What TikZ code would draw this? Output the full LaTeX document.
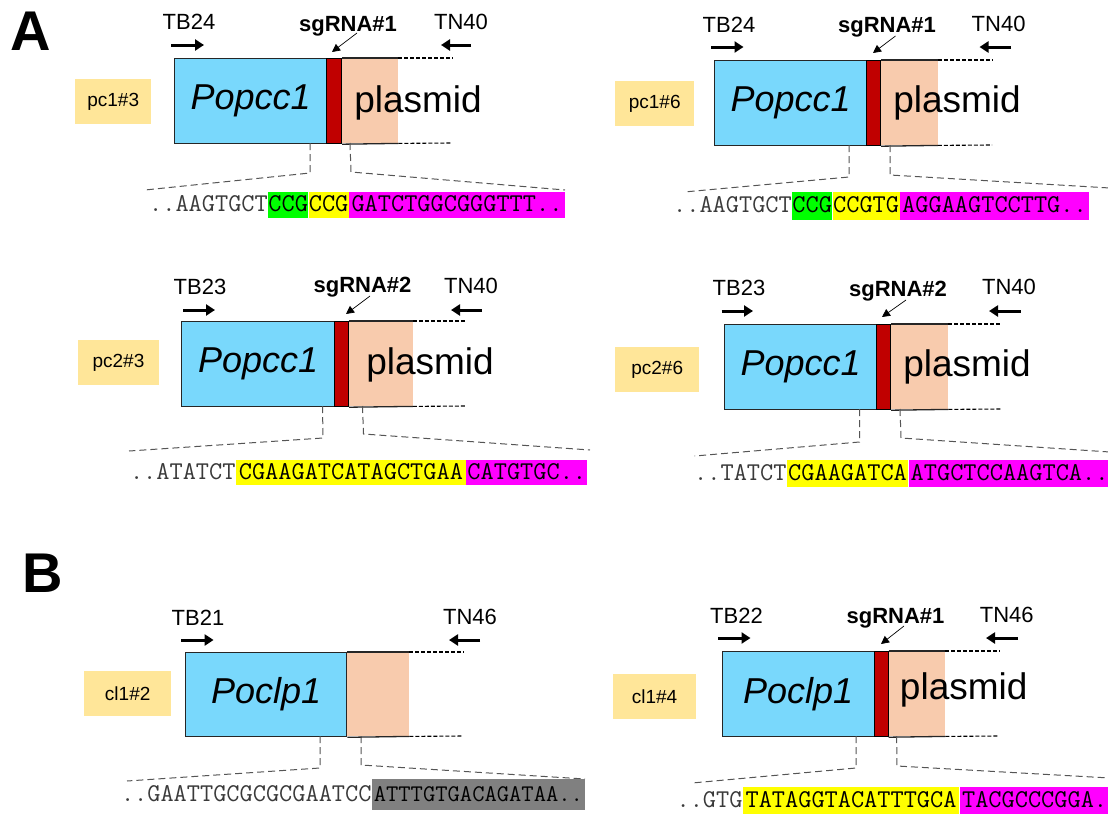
\documentclass[tikz,border=0pt]{standalone}
\usepackage{fontspec}
\setmainfont{Liberation Sans}
\usetikzlibrary{arrows.meta}
\definecolor{genefill}{HTML}{79D8FC}
\definecolor{cutred}{HTML}{C00000}
\definecolor{peachfill}{HTML}{F8CBAD}
\definecolor{labfill}{HTML}{FFE699}
\definecolor{linec}{HTML}{262626}
\definecolor{zoomc}{HTML}{555555}
\definecolor{seqgray}{HTML}{3A3A3A}
\definecolor{grayfill}{HTML}{808080}
\definecolor{sgreen}{RGB}{0,255,0}
\definecolor{syellow}{RGB}{255,255,0}
\definecolor{smag}{RGB}{255,0,255}
\begin{document}
\begin{tikzpicture}[x=1pt,y=-1pt,
  lab/.style={fill=labfill, inner sep=0pt, anchor=north west, minimum height=45pt, font=\fontsize{19}{22}\selectfont},
  gene/.style={draw=linec, line width=1.3pt, fill=genefill, inner sep=0pt, anchor=north west, font=\fontsize{36}{40}\selectfont\itshape},
  cutbar/.style={draw=black, line width=1.2pt, fill=cutred, inner sep=0pt, anchor=north west},
  peachbox/.style={fill=peachfill, inner sep=0pt, anchor=north west},
  edge/.style={draw=linec, line width=1.3pt},
  plas/.style={font=\fontsize{37}{40}\selectfont},
  primer/.style={font=\fontsize{22}{24}\selectfont},
  sgl/.style={font=\bfseries\fontsize{22}{24}\selectfont},
  parr/.style={line width=3pt, -{Triangle[length=9pt,width=11pt]}},
  sgarr/.style={line width=0.7pt, -{Triangle[length=8pt,width=8pt]}},
  ext/.style={draw=black, line width=1.1pt, dash pattern=on 4pt off 2pt},
  zoomline/.style={draw=zoomc, line width=1pt, dash pattern=on 7pt off 4pt},
  seqbox/.style={inner sep=0pt, anchor=north west, text=black, font=\fontsize{25.6}{27}\selectfont\ttfamily, text height=17pt, text depth=4pt},
  seqpre/.style={inner sep=0pt, anchor=base east, text=seqgray, font=\fontsize{25.6}{27}\selectfont\ttfamily},
  panel/.style={font=\bfseries\fontsize{56}{60}\selectfont}
]
\useasboundingbox[fill=white] (0,0) rectangle (1108,814);

\node[panel] (pA) at (30.5,31) {A};
\node[panel] (pB) at (43,573) {B};

% ================= A1 =================
\node[lab, minimum width=76pt] (l1) at (75,79) {pc1\#3};
\node[peachbox, minimum width=57pt, minimum height=85pt] (p1) at (341,58) {};
\node[gene, minimum width=152pt, minimum height=85pt] (g1) at (174,58) {Popcc1};
\node[cutbar, minimum width=15pt, minimum height=85pt] (r1) at (326,58) {};
\draw[edge] (r1.north east) -- (p1.north east);
\draw[edge] (r1.south east) -- (p1.south east);
\coordinate (e1t) at (453,58); \coordinate (e1b) at (452,143);
\draw[ext] (p1.north east) -- (e1t);
\draw[ext] (p1.south east) -- (e1b);
\node[plas] (t1) at (418,103) {plasmid};
\node[primer] (f1) at (189,22) {TB24};
\coordinate (f1a) at (171,45); \coordinate (f1b) at (204,45);
\draw[parr] (f1a) -- (f1b);
\node[primer] (v1) at (461,22) {TN40};
\coordinate (v1a) at (471,45); \coordinate (v1b) at (441,45);
\draw[parr] (v1a) -- (v1b);
\node[sgl] (s1) at (348,26) {sgRNA\#1};
\coordinate (s1a) at (357,33); \coordinate (s1b) at (332,52);
\draw[sgarr] (s1a) -- (s1b);
\coordinate (z1a) at (310,143); \coordinate (z1b) at (310,173); \coordinate (z1c) at (145,190);
\draw[zoomline] (z1a) -- (z1b) -- (z1c);
\coordinate (z1d) at (350,143); \coordinate (z1e) at (351,172); \coordinate (z1f) at (565,190);
\draw[zoomline] (z1d) -- (z1e) -- (z1f);
\node[seqbox, fill=sgreen, minimum width=40pt, minimum height=26pt] (q1g) at (268,192) {CCG};
\node[seqbox, fill=syellow, minimum width=40pt, minimum height=26pt] (q1y) at (q1g.north east) {CCG};
\node[seqbox, fill=smag, minimum width=216pt, minimum height=26pt] (q1m) at (q1y.north east) {GATCTGGCGGGTTT..};
\node[seqpre] (q1p) at (q1g.base west) {..AAGTGCT};

% ================= A2 =================
\node[lab, minimum width=79pt] (l2) at (615,81) {pc1\#6};
\node[peachbox, minimum width=57.5pt, minimum height=85pt] (p2) at (880,60) {};
\node[gene, minimum width=152pt, minimum height=85pt] (g2) at (714,60) {Popcc1};
\node[cutbar, minimum width=14pt, minimum height=85pt] (r2) at (866,60) {};
\draw[edge] (r2.north east) -- (p2.north east);
\draw[edge] (r2.south east) -- (p2.south east);
\coordinate (e2t) at (993,60); \coordinate (e2b) at (992,145);
\draw[ext] (p2.north east) -- (e2t);
\draw[ext] (p2.south east) -- (e2b);
\node[plas] (t2) at (957,103) {plasmid};
\node[primer] (f2) at (729,25) {TB24};
\coordinate (f2a) at (711,47); \coordinate (f2b) at (743.5,47);
\draw[parr] (f2a) -- (f2b);
\node[primer] (v2) at (998.6,24) {TN40};
\coordinate (v2a) at (1011,47); \coordinate (v2b) at (979.5,47);
\draw[parr] (v2a) -- (v2b);
\node[sgl] (s2) at (887,27) {sgRNA\#1};
\coordinate (s2a) at (895.5,36); \coordinate (s2b) at (873,53);
\draw[sgarr] (s2a) -- (s2b);
\coordinate (z2a) at (849,145); \coordinate (z2b) at (849,177); \coordinate (z2c) at (684,192);
\draw[zoomline] (z2a) -- (z2b) -- (z2c);
\coordinate (z2d) at (890,145); \coordinate (z2e) at (890,175); \coordinate (z2f) at (1110,188);
\draw[zoomline] (z2d) -- (z2e) -- (z2f);
\node[seqbox, fill=sgreen, minimum width=40pt, minimum height=28pt] (q2g) at (792,192) {CCG};
\node[seqbox, fill=syellow, minimum width=67pt, minimum height=28pt] (q2y) at (q2g.north east) {CCGTG};
\node[seqbox, fill=smag, minimum width=189pt, minimum height=28pt] (q2m) at (q2y.north east) {AGGAAGTCCTTG..};
\node[seqpre] (q2p) at (q2g.base west) {..AAGTGCT};

% ================= A3 =================
\node[lab, minimum width=81.5pt] (l3) at (77.5,340) {pc2\#3};
\node[peachbox, minimum width=64.5pt, minimum height=85pt] (p3) at (348,321) {};
\node[gene, minimum width=153pt, minimum height=85pt] (g3) at (181,321) {Popcc1};
\node[cutbar, minimum width=14pt, minimum height=85pt] (r3) at (334,321) {};
\draw[edge] (r3.north east) -- (p3.north east);
\draw[edge] (r3.south east) -- (p3.south east);
\coordinate (e3t) at (466,321); \coordinate (e3b) at (465,406);
\draw[ext] (p3.north east) -- (e3t);
\draw[ext] (p3.south east) -- (e3b);
\node[plas] (t3) at (430,365) {plasmid};
\node[primer] (f3) at (200,287) {TB23};
\coordinate (f3a) at (183,310); \coordinate (f3b) at (215,310);
\draw[parr] (f3a) -- (f3b);
\node[primer] (v3) at (471,286) {TN40};
\coordinate (v3a) at (482,310); \coordinate (v3b) at (451,310);
\draw[parr] (v3a) -- (v3b);
\node[sgl] (s3) at (362.5,287) {sgRNA\#2};
\coordinate (s3a) at (370,296); \coordinate (s3b) at (346,314);
\draw[sgarr] (s3a) -- (s3b);
\coordinate (z3a) at (322.5,406); \coordinate (z3b) at (323,438); \coordinate (z3c) at (129,451);
\draw[zoomline] (z3a) -- (z3b) -- (z3c);
\coordinate (z3d) at (362.5,406); \coordinate (z3e) at (363.5,434); \coordinate (z3f) at (590,450);
\draw[zoomline] (z3d) -- (z3e) -- (z3f);
\node[seqbox, fill=syellow, minimum width=230pt, minimum height=25pt] (q3y) at (235.7,460) {CGAAGATCATAGCTGAA};
\node[seqbox, fill=smag, minimum width=121pt, minimum height=25pt] (q3m) at (q3y.north east) {CATGTGC..};
\node[seqpre] (q3p) at (q3y.base west) {..ATATCT};

% ================= A4 =================
\node[lab, minimum width=84pt] (l4) at (615,347) {pc2\#6};
\node[peachbox, minimum width=58pt, minimum height=85pt] (p4) at (890,324) {};
\node[gene, minimum width=152pt, minimum height=85pt] (g4) at (724,324) {Popcc1};
\node[cutbar, minimum width=14pt, minimum height=85pt] (r4) at (876,324) {};
\draw[edge] (r4.north east) -- (p4.north east);
\draw[edge] (r4.south east) -- (p4.south east);
\coordinate (e4t) at (1002,324); \coordinate (e4b) at (1001,409);
\draw[ext] (p4.north east) -- (e4t);
\draw[ext] (p4.south east) -- (e4b);
\node[plas] (t4) at (967,367) {plasmid};
\node[primer] (f4) at (739,288) {TB23};
\coordinate (f4a) at (721.5,311); \coordinate (f4b) at (753,311);
\draw[parr] (f4a) -- (f4b);
\node[primer] (v4) at (1009,287) {TN40};
\coordinate (v4a) at (1020.7,311); \coordinate (v4b) at (989,311);
\draw[parr] (v4a) -- (v4b);
\node[sgl] (s4) at (898,291) {sgRNA\#2};
\coordinate (s4a) at (906,300); \coordinate (s4b) at (882,317);
\draw[sgarr] (s4a) -- (s4b);
\coordinate (z4a) at (859.5,409); \coordinate (z4b) at (859.5,442); \coordinate (z4c) at (694.6,456);
\draw[zoomline] (z4a) -- (z4b) -- (z4c);
\coordinate (z4d) at (900,409); \coordinate (z4e) at (901,438); \coordinate (z4f) at (1110,452);
\draw[zoomline] (z4d) -- (z4e) -- (z4f);
\node[seqbox, fill=syellow, minimum width=121.3pt, minimum height=27pt] (q4y) at (786.7,460) {CGAAGATCA};
\node[seqbox, fill=smag, minimum width=202pt, minimum height=27pt] (q4m) at (q4y.north east) {ATGCTCCAAGTCA..};
\node[seqpre] (q4p) at (q4y.base west) {..TATCT};

% ================= B1 =================
\node[lab, minimum width=87pt] (l5) at (84,671) {cl1\#2};
\node[peachbox, minimum width=63pt, minimum height=84pt] (p5) at (346,652) {};
\node[gene, minimum width=161pt, minimum height=84pt] (g5) at (185,652) {Poclp1};
\draw[edge] (g5.north east) -- (p5.north east);
\draw[edge] (g5.south east) -- (p5.south east);
\coordinate (e5t) at (464,652); \coordinate (e5b) at (463,736);
\draw[ext] (p5.north east) -- (e5t);
\draw[ext] (p5.south east) -- (e5b);
\node[primer] (f5) at (198,618) {TB21};
\coordinate (f5a) at (181,640); \coordinate (f5b) at (213.6,640);
\draw[parr] (f5a) -- (f5b);
\node[primer] (v5) at (470,617) {TN46};
\coordinate (v5a) at (480,640); \coordinate (v5b) at (449,640);
\draw[parr] (v5a) -- (v5b);
\coordinate (z5a) at (320,736); \coordinate (z5b) at (320,768); \coordinate (z5c) at (127,781);
\draw[zoomline] (z5a) -- (z5b) -- (z5c);
\coordinate (z5d) at (361,736); \coordinate (z5e) at (361,765); \coordinate (z5f) at (585,779);
\draw[zoomline] (z5d) -- (z5e) -- (z5f);
\node[seqbox, fill=grayfill, minimum width=213pt, minimum height=31pt, font=\fontsize{23.9}{26}\selectfont\ttfamily] (q5g) at (371.7,779) {ATTTGTGACAGATAA..};
\node[seqpre] (q5p) at (q5g.base west) {..GAATTGCGCGCGAATCC};

% ================= B2 =================
\node[lab, minimum width=82.6pt] (l6) at (613,674) {cl1\#4};
\node[peachbox, minimum width=57.5pt, minimum height=85pt] (p6) at (887.5,651) {};
\node[gene, minimum width=152pt, minimum height=85pt] (g6) at (721.5,651) {Poclp1};
\node[cutbar, minimum width=14pt, minimum height=85pt] (r6) at (873.5,651) {};
\draw[edge] (r6.north east) -- (p6.north east);
\draw[edge] (r6.south east) -- (p6.south east);
\coordinate (e6t) at (999.7,651); \coordinate (e6b) at (998.7,736);
\draw[ext] (p6.north east) -- (e6t);
\draw[ext] (p6.south east) -- (e6b);
\node[plas] (t6) at (963.7,690) {plasmid};
\node[primer] (f6) at (736.5,616) {TB22};
\coordinate (f6a) at (718,638); \coordinate (f6b) at (750.5,638);
\draw[parr] (f6a) -- (f6b);
\node[primer] (v6) at (1006.7,615) {TN46};
\coordinate (v6a) at (1018,638); \coordinate (v6b) at (986,638);
\draw[parr] (v6a) -- (v6b);
\node[sgl] (s6) at (895.5,618) {sgRNA\#1};
\coordinate (s6a) at (904,626); \coordinate (s6b) at (881,644);
\draw[sgarr] (s6a) -- (s6b);
\coordinate (z6a) at (856,736); \coordinate (z6b) at (856,768); \coordinate (z6c) at (692,783);
\draw[zoomline] (z6a) -- (z6b) -- (z6c);
\coordinate (z6d) at (896.6,736); \coordinate (z6e) at (897,766); \coordinate (z6f) at (1110,778);
\draw[zoomline] (z6d) -- (z6e) -- (z6f);
\node[seqbox, fill=syellow, minimum width=216.3pt, minimum height=27pt] (q6y) at (742.7,787) {TATAGGTACATTTGCA};
\node[seqbox, fill=smag, minimum width=150pt, minimum height=27pt] (q6m) at (q6y.north east) {TACGCCCGGA.};
\node[seqpre] (q6p) at (q6y.base west) {..GTG};
\end{tikzpicture}
\end{document}
